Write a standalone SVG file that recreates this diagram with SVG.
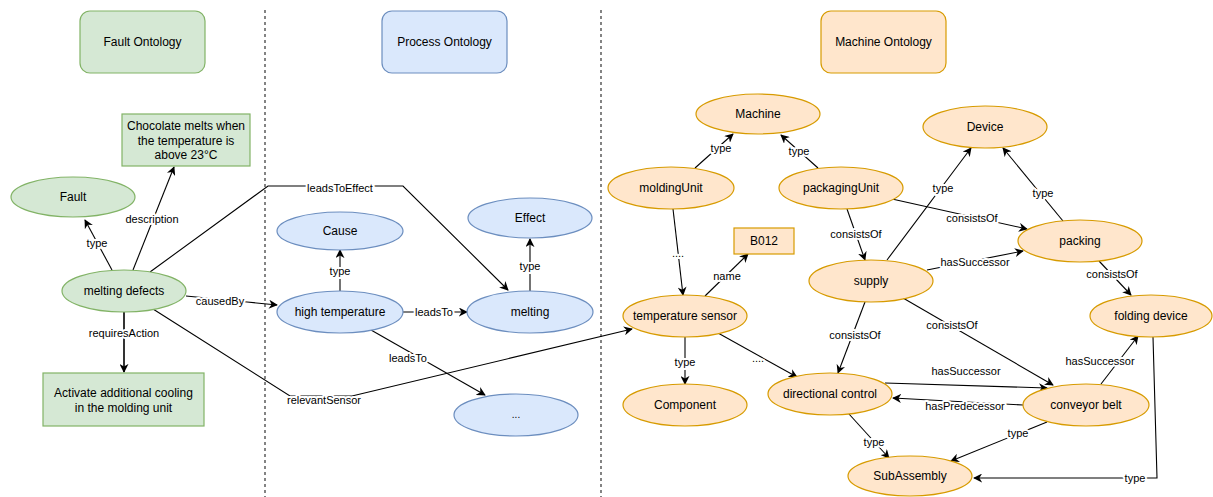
<svg xmlns="http://www.w3.org/2000/svg" width="1213" height="497" viewBox="0 0 1213 497">
<style>
text{font-family:"Liberation Sans",Arial,sans-serif;fill:#000;text-anchor:middle;dominant-baseline:central}
.n{font-size:12px}
.l{font-size:11px;stroke:#fff;stroke-width:4;paint-order:stroke;stroke-linejoin:round}
.g{fill:#d5e8d4;stroke:#82b366;stroke-width:1.2}
.b{fill:#dae8fc;stroke:#6c8ebf;stroke-width:1.2}
.o{fill:#ffe6cc;stroke:#d79b00;stroke-width:1.2}
.e{fill:none;stroke:#000;stroke-width:1.1;marker-end:url(#a)}
.d{stroke:#333;stroke-width:1.2;stroke-dasharray:3 3}
</style>
<defs>
<marker id="a" viewBox="0 0 10 10" refX="9" refY="5" markerWidth="9" markerHeight="9" markerUnits="userSpaceOnUse" orient="auto">
<path d="M0,0 L10,5 L0,10 L3,5 z" fill="#000"/>
</marker>
</defs>
<rect width="1213" height="497" fill="#fff"/>
<g id="separators">
<line class="d" x1="265" y1="10" x2="265" y2="497"/>
<line class="d" x1="601" y1="10" x2="601" y2="497"/>
</g>
<g id="connectors">
<path class="e" d="M112,270 L85,220"/>
<path class="e" d="M133,270 L174,167"/>
<path class="e" d="M124,312 L124,372" style="stroke-width:1.6"/>
<path class="e" d="M186,296 L247,302 L277,305"/>
<path class="e" d="M153,309 L290,396 L352,396 L632,329"/>
<path class="e" d="M150,272 L268,186 L403,186 L508,290"/>
<path class="e" d="M340,291 L340,250"/>
<path class="e" d="M530,291 L530,239"/>
<path class="e" d="M403,312 L467,312"/>
<path class="e" d="M371,330 L485,395"/>
<path class="e" d="M695,168 L733,134"/>
<path class="e" d="M818,168 L781,135"/>
<path class="e" d="M673,209 L683,295"/>
<path class="e" d="M705,296 L748,254"/>
<path class="e" d="M847,209 L865,260"/>
<path class="e" d="M892,199 L1027,229"/>
<path class="e" d="M887,260 L971,148"/>
<path class="e" d="M1063,221 L1003,148"/>
<path class="e" d="M927,270 L1023,251"/>
<path class="e" d="M1099,261 L1131,295"/>
<path class="e" d="M865,302 L838,373"/>
<path class="e" d="M903,298 L1053,385"/>
<path class="e" d="M718,333 L797,377"/>
<path class="e" d="M685,336 L685,384"/>
<path class="e" d="M885,383 L1047,388"/>
<path class="e" d="M1023,405 L893,398"/>
<path class="e" d="M1101,384 L1138,336"/>
<path class="e" d="M1047,422 L951,461"/>
<path class="e" d="M849,414 L889,458"/>
<path class="e" d="M1153,337 L1157,478 L974,478"/>
</g>
<g id="edge-labels">
<text class="l" x="97" y="243">type</text>
<text class="l" x="152" y="219">description</text>
<text class="l" x="124" y="333">requiresAction</text>
<text class="l" x="220" y="301">causedBy</text>
<text class="l" x="324" y="400">relevantSensor</text>
<text class="l" x="340" y="188">leadsToEffect</text>
<text class="l" x="340" y="271">type</text>
<text class="l" x="530" y="266">type</text>
<text class="l" x="434" y="312">leadsTo</text>
<text class="l" x="408" y="358">leadsTo</text>
<text class="l" x="721" y="148">type</text>
<text class="l" x="799" y="151">type</text>
<text class="l" x="678" y="253">....</text>
<text class="l" x="727" y="276">name</text>
<text class="l" x="856" y="234">consistsOf</text>
<text class="l" x="972" y="218">consistsOf</text>
<text class="l" x="943" y="188">type</text>
<text class="l" x="1043" y="193">type</text>
<text class="l" x="975" y="262">hasSuccessor</text>
<text class="l" x="1112" y="274">consistsOf</text>
<text class="l" x="855" y="335">consistsOf</text>
<text class="l" x="952" y="325">consistsOf</text>
<text class="l" x="758" y="358">....</text>
<text class="l" x="685" y="362">type</text>
<text class="l" x="966" y="371">hasSuccessor</text>
<text class="l" x="965" y="406">hasPredecessor</text>
<text class="l" x="1100" y="361">hasSuccessor</text>
<text class="l" x="1018" y="433">type</text>
<text class="l" x="874" y="442">type</text>
<text class="l" x="1135" y="478">type</text>
</g>
<g id="fault-ontology">
<rect class="g" x="80" y="11" width="125" height="62" rx="10"/>
<text class="n" x="142.5" y="42">Fault Ontology</text>
</g>
<g id="process-ontology">
<rect class="b" x="382" y="11" width="125" height="62" rx="10"/>
<text class="n" x="444.5" y="42">Process Ontology</text>
</g>
<g id="machine-ontology">
<rect class="o" x="821" y="11" width="125" height="62" rx="10"/>
<text class="n" x="883.5" y="42">Machine Ontology</text>
</g>
<g id="chocolate-description">
<rect class="g" x="122" y="114" width="128" height="52"/>
<text class="n" x="186" y="126">Chocolate melts when</text>
<text class="n" x="186" y="141">the temperature is</text>
<text class="n" x="186" y="155">above 23°C</text>
</g>
<g id="fault"><ellipse class="g" cx="73" cy="197" rx="62" ry="20"/><text class="n" x="73" y="197">Fault</text></g>
<g id="melting-defects"><ellipse class="g" cx="124" cy="291" rx="62" ry="21"/><text class="n" x="124" y="291">melting defects</text></g>
<g id="activate-cooling">
<rect class="g" x="43" y="373" width="161" height="53"/>
<text class="n" x="123.5" y="393">Activate additional cooling</text>
<text class="n" x="123.5" y="408">in the molding unit</text>
</g>
<g id="cause"><ellipse class="b" cx="340" cy="231" rx="63" ry="19"/><text class="n" x="340" y="231">Cause</text></g>
<g id="effect"><ellipse class="b" cx="530" cy="218" rx="62" ry="20"/><text class="n" x="530" y="218">Effect</text></g>
<g id="high-temperature"><ellipse class="b" cx="340" cy="312" rx="63" ry="21"/><text class="n" x="340" y="312">high temperature</text></g>
<g id="melting"><ellipse class="b" cx="530" cy="312" rx="63" ry="21"/><text class="n" x="530" y="312">melting</text></g>
<g id="process-more"><ellipse class="b" cx="516" cy="415" rx="62" ry="21"/><text class="n" x="516" y="414" style="font-size:10px">...</text></g>
<g id="machine"><ellipse class="o" cx="758" cy="114" rx="62" ry="20"/><text class="n" x="758" y="114">Machine</text></g>
<g id="moldingUnit"><ellipse class="o" cx="671" cy="188" rx="63" ry="21"/><text class="n" x="671" y="188">moldingUnit</text></g>
<g id="packagingUnit"><ellipse class="o" cx="841" cy="188" rx="62" ry="21"/><text class="n" x="841" y="188">packagingUnit</text></g>
<g id="b012"><rect class="o" x="734" y="228" width="60" height="26"/><text class="n" x="764" y="241">B012</text></g>
<g id="device"><ellipse class="o" cx="985" cy="127" rx="62" ry="21"/><text class="n" x="985" y="127">Device</text></g>
<g id="packing"><ellipse class="o" cx="1080" cy="241" rx="62" ry="21"/><text class="n" x="1080" y="241">packing</text></g>
<g id="supply"><ellipse class="o" cx="871" cy="281" rx="62" ry="21"/><text class="n" x="871" y="281">supply</text></g>
<g id="folding-device"><ellipse class="o" cx="1151" cy="316" rx="61" ry="21"/><text class="n" x="1151" y="316">folding device</text></g>
<g id="temperature-sensor"><ellipse class="o" cx="685" cy="316" rx="62" ry="21"/><text class="n" x="685" y="316">temperature sensor</text></g>
<g id="component"><ellipse class="o" cx="685" cy="405" rx="62" ry="21"/><text class="n" x="685" y="405">Component</text></g>
<g id="directional-control"><ellipse class="o" cx="830" cy="394" rx="62" ry="21"/><text class="n" x="830" y="394">directional control</text></g>
<g id="conveyor-belt"><ellipse class="o" cx="1086" cy="405" rx="63" ry="21"/><text class="n" x="1086" y="405">conveyor belt</text></g>
<g id="subassembly"><ellipse class="o" cx="910" cy="476" rx="62" ry="20"/><text class="n" x="910" y="476">SubAssembly</text></g>
</svg>
